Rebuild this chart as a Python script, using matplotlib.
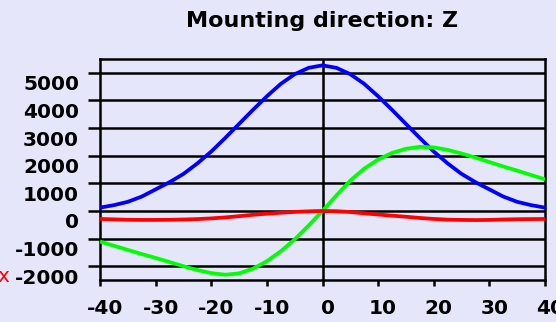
import matplotlib.pyplot as plt
import matplotlib.transforms as mtransforms
import numpy as np

# angle in degrees, one sample every 2.5
angle = np.arange(-40, 40.1, 2.5)

blue = [120, 210, 330, 520, 780, 1040, 1340, 1720, 2150, 2640, 3150, 3660,
        4150, 4600, 4950, 5180, 5270, 5180, 4950, 4600, 4150, 3660, 3150,
        2640, 2150, 1720, 1340, 1040, 780, 520, 330, 210, 120]
green = [-1110, -1260, -1410, -1560, -1700, -1850, -2000, -2140, -2250,
         -2310, -2260, -2090, -1820, -1460, -1030, -530, 0, 560, 1100, 1530,
         1860, 2100, 2250, 2320, 2300, 2210, 2080, 1930, 1770, 1610, 1460,
         1300, 1145]
red = [-290, -305, -320, -325, -325, -320, -310, -295, -270, -235, -190,
       -140, -100, -65, -35, -15, 0, -10, -40, -85, -130, -170, -210, -255,
       -290, -315, -325, -330, -325, -310, -300, -295, -290]

xticks = [-40, -30, -20, -10, 0, 10, 20, 30, 40]
yticks = [-2000, -1000, 0, 1000, 2000, 3000, 4000, 5000]

bg = '#E6E6FA'
plt.rcParams['font.family'] = ['DejaVu Sans']
plt.rcParams['font.weight'] = 'bold'

fig = plt.figure(figsize=(5.56, 3.22), dpi=100, facecolor=bg)
ax = fig.add_axes([100/556, 1 - 280/322, 445/556, 221/322], facecolor=bg)

ax.set_xlim(-40, 40)
ax.set_ylim(-2500, 5500)
ax.set_xticks(xticks)
ax.set_yticks(yticks)
ax.set_xticklabels([str(v) for v in xticks], fontsize=14.5, fontweight='bold')
ax.set_yticklabels([str(v) for v in yticks], fontsize=14.5, fontweight='bold')

for y in yticks:
    ax.axhline(y, color='black', lw=1.8, zorder=1)
ax.axvline(0, color='black', lw=1.8, zorder=1)

for vals, col in [(blue, '#0000FF'), (green, '#00FF00'), (red, '#FF0000')]:
    ax.plot(angle, vals, color=col, lw=2.7, zorder=3,
            solid_capstyle='butt', solid_joinstyle='round')

for s in ax.spines.values():
    s.set_linewidth(1.8)
ax.tick_params(axis='y', length=9, width=1.8, pad=6, colors='black')
ax.tick_params(axis='x', length=4, width=1.8, pad=9.5, colors='black')

# y labels sit a little below their ticks, x labels a little to the right
yshift = mtransforms.ScaledTranslation(0, -10/100, fig.dpi_scale_trans)
for lab in ax.get_yticklabels():
    lab.set_transform(lab.get_transform() + yshift)
xshift = mtransforms.ScaledTranslation(5/100, 0, fig.dpi_scale_trans)
for lab in ax.get_xticklabels():
    lab.set_transform(lab.get_transform() + xshift)

ax.set_title('Mounting direction: Z', fontsize=16, fontweight='bold', pad=23)

fig.text(-3/556, 1 - 282/322, 'x', color='#FF0000', fontsize=14.5,
         fontweight='normal', ha='left', va='baseline')

fig.savefig('out.png', dpi=100, facecolor=bg)
